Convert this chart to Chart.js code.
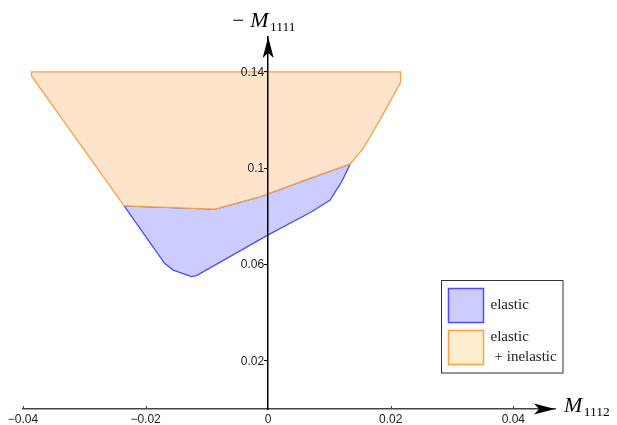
<!DOCTYPE html>
<html>
<head>
<meta charset="utf-8">
<script src="https://cdn.jsdelivr.net/npm/chart.js@4/dist/chart.umd.min.js"></script>
<style>
  html, body { margin: 0; padding: 0; background: #fff; }
</style>
</head>
<body>
<canvas id="region-chart" width="617" height="425"></canvas>
<script>
// boundaries: x = M1112, y = -M1111
var elasticX = [-0.0235, -0.0169, -0.0155, -0.0125, -0.0117, 0.0000, 0.0071, 0.0101, 0.0120, 0.0134, 0.0068, -0.0014, -0.0087, -0.0235];
var elasticY = [0.0844, 0.0605, 0.0577, 0.0550, 0.0554, 0.0723, 0.0819, 0.0868, 0.0944, 0.1018, 0.0958, 0.0881, 0.0830, 0.0844];

var totalX = [-0.0386, -0.0386, 0.0216, 0.0216, 0.0182, 0.0155, 0.0134, 0.0068, -0.0014, -0.0087, -0.0235, -0.0386];
var totalY = [0.1382, 0.1400, 0.1400, 0.1357, 0.1199, 0.1082, 0.1018, 0.0958, 0.0881, 0.0830, 0.0844, 0.1382];

var xTicks = [-0.04, -0.02, 0, 0.02, 0.04];
var xTickLabels = ['\u22120.04', '\u22120.02', '0', '0.02', '0.04'];
var yTicks = [0.02, 0.06, 0.1, 0.14];
var yTickLabels = ['0.02', '0.06', '0.1', '0.14'];

var seriesNames = [['elastic'], ['elastic', '+ inelastic']];

function toPoints(xs, ys) {
    return xs.map(function (x, i) {
        return { x: x, y: ys[i] };
    });
}

const tickFont = { family: 'Liberation Sans', size: 12 };

function arrowHead(ctx, tx, ty, dx, dy) {
    var len = 21, half = 5.5, notch = 16;
    var px = -dy, py = dx;
    ctx.beginPath();
    ctx.moveTo(tx, ty);
    ctx.lineTo(tx - dx * len + px * half, ty - dy * len + py * half);
    ctx.lineTo(tx - dx * notch, ty - dy * notch);
    ctx.lineTo(tx - dx * len - px * half, ty - dy * len - py * half);
    ctx.closePath();
    ctx.fill();
}

// "M" with a numeric subscript, optional leading minus
function subTitle(ctx, x, y, withMinus, sub) {
    if (withMinus) {
        ctx.font = '21px "Liberation Serif"';
        ctx.fillText('\u2212', x, y);
        x += 18;
    }
    ctx.font = 'italic 22px "Liberation Serif"';
    ctx.fillText('M', x, y);
    x += ctx.measureText('M').width + 1.5;
    ctx.font = '13.5px "Liberation Serif"';
    ctx.fillText(sub, x, y + 4);
}

const axisDecor = {
    id: 'axisDecor',
    afterDraw: function (chart) {
        var ctx = chart.ctx;
        var xs = chart.scales.x, ys = chart.scales.y;
        var x0 = xs.getPixelForValue(0);
        var y0 = ys.getPixelForValue(0);
        var area = chart.chartArea;

        ctx.save();
        // little tick marks above the horizontal axis
        ctx.strokeStyle = '#444';
        ctx.lineWidth = 1;
        xTicks.forEach(function (v) {
            if (v === 0) return;
            var px = Math.round(xs.getPixelForValue(v)) + 0.5;
            ctx.beginPath();
            ctx.moveTo(px, y0);
            ctx.lineTo(px, y0 - 3);
            ctx.stroke();
        });

        // y tick labels sit left of the vertical axis
        ctx.fillStyle = '#222';
        ctx.font = '12px "Liberation Sans"';
        ctx.textAlign = 'right';
        ctx.textBaseline = 'middle';
        yTicks.forEach(function (v, i) {
            ctx.fillText(yTickLabels[i], x0 - 4, ys.getPixelForValue(v) + 0.5);
        });

        // arrows
        ctx.fillStyle = '#000';
        arrowHead(ctx, x0, area.top, 0, -1);
        arrowHead(ctx, area.right, y0, 1, 0);

        // axis titles
        ctx.textBaseline = 'alphabetic';
        ctx.textAlign = 'left';
        subTitle(ctx, x0 - 36, area.top - 10, true, '1111');
        subTitle(ctx, area.right + 9, y0 + 3, false, '1112');

        // legend box
        var bx = 441.5, by = 280.5, bw = 121.5, bh = 92.5;
        ctx.fillStyle = '#fff';
        ctx.fillRect(bx, by, bw, bh);
        ctx.strokeStyle = '#333';
        ctx.lineWidth = 1;
        ctx.strokeRect(bx, by, bw, bh);

        var swatchFill = ['#ccccff', '#ffedcf'];
        chart.data.datasets.forEach(function (ds, i) {
            var sy = by + 8 + i * 42;
            ctx.fillStyle = swatchFill[i];
            ctx.fillRect(bx + 7, sy, 35, 34);
            ctx.strokeStyle = ds.borderColor;
            ctx.lineWidth = 1.5;
            ctx.strokeRect(bx + 7, sy, 35, 34);

            ctx.fillStyle = '#222';
            ctx.font = '15px "Liberation Serif"';
            var lines = seriesNames[i];
            if (lines.length === 1) {
                ctx.fillText(lines[0], bx + 49, sy + 20);
            } else {
                ctx.fillText(lines[0], bx + 49, sy + 10);
                ctx.fillText(lines[1], bx + 53, sy + 30.5);
            }
        });
        ctx.restore();
    }
};

new Chart(document.getElementById('region-chart'), {
    type: 'line',
    data: {
        datasets: [
            {
                label: 'elastic',
                data: toPoints(elasticX, elasticY),
                backgroundColor: '#ccccff',
                borderColor: '#4d4dff',
                borderWidth: 1.3,
                pointRadius: 0,
                tension: 0,
                fill: 'shape',
                order: 1,
            },
            {
                label: 'elastic + inelastic',
                data: toPoints(totalX, totalY),
                backgroundColor: '#fde4cb',
                borderColor: '#f7a04c',
                borderWidth: 1.3,
                pointRadius: 0,
                tension: 0,
                fill: 'shape',
                order: 0,
            },
        ],
    },
    options: {
        responsive: false,
        animation: false,
        layout: {
            padding: { left: 23, right: 62, top: 37, bottom: 16 },
        },
        scales: {
            x: {
                type: 'linear',
                min: -0.04,
                max: 0.0468,
                position: { y: 0 },
                afterBuildTicks: function (scale) {
                    scale.ticks = xTicks.map(function (v) { return { value: v }; });
                },
                ticks: {
                    autoSkip: false,
                    maxRotation: 0,
                    padding: 3,
                    z: 1,
                    font: tickFont,
                    color: '#222',
                    callback: function (value, index) {
                        return xTickLabels[index];
                    },
                },
                grid: { display: true, drawOnChartArea: false, drawTicks: false, z: 1 },
                border: { display: true, color: '#444', width: 1.6, z: 1 },
            },
            y: {
                type: 'linear',
                min: 0,
                max: 0.1545,
                position: { x: 0 },
                afterBuildTicks: function (scale) {
                    scale.ticks = yTicks.map(function (v) { return { value: v }; });
                },
                ticks: {
                    autoSkip: false,
                    display: false,
                },
                grid: { display: true, drawOnChartArea: false, drawTicks: true, tickLength: 3, color: '#000', z: 1 },
                border: { display: true, color: '#000', width: 1.5, z: 1 },
            },
        },
        plugins: {
            legend: { display: false },
            tooltip: { enabled: false },
        },
    },
    plugins: [axisDecor],
});
</script>
</body>
</html>
